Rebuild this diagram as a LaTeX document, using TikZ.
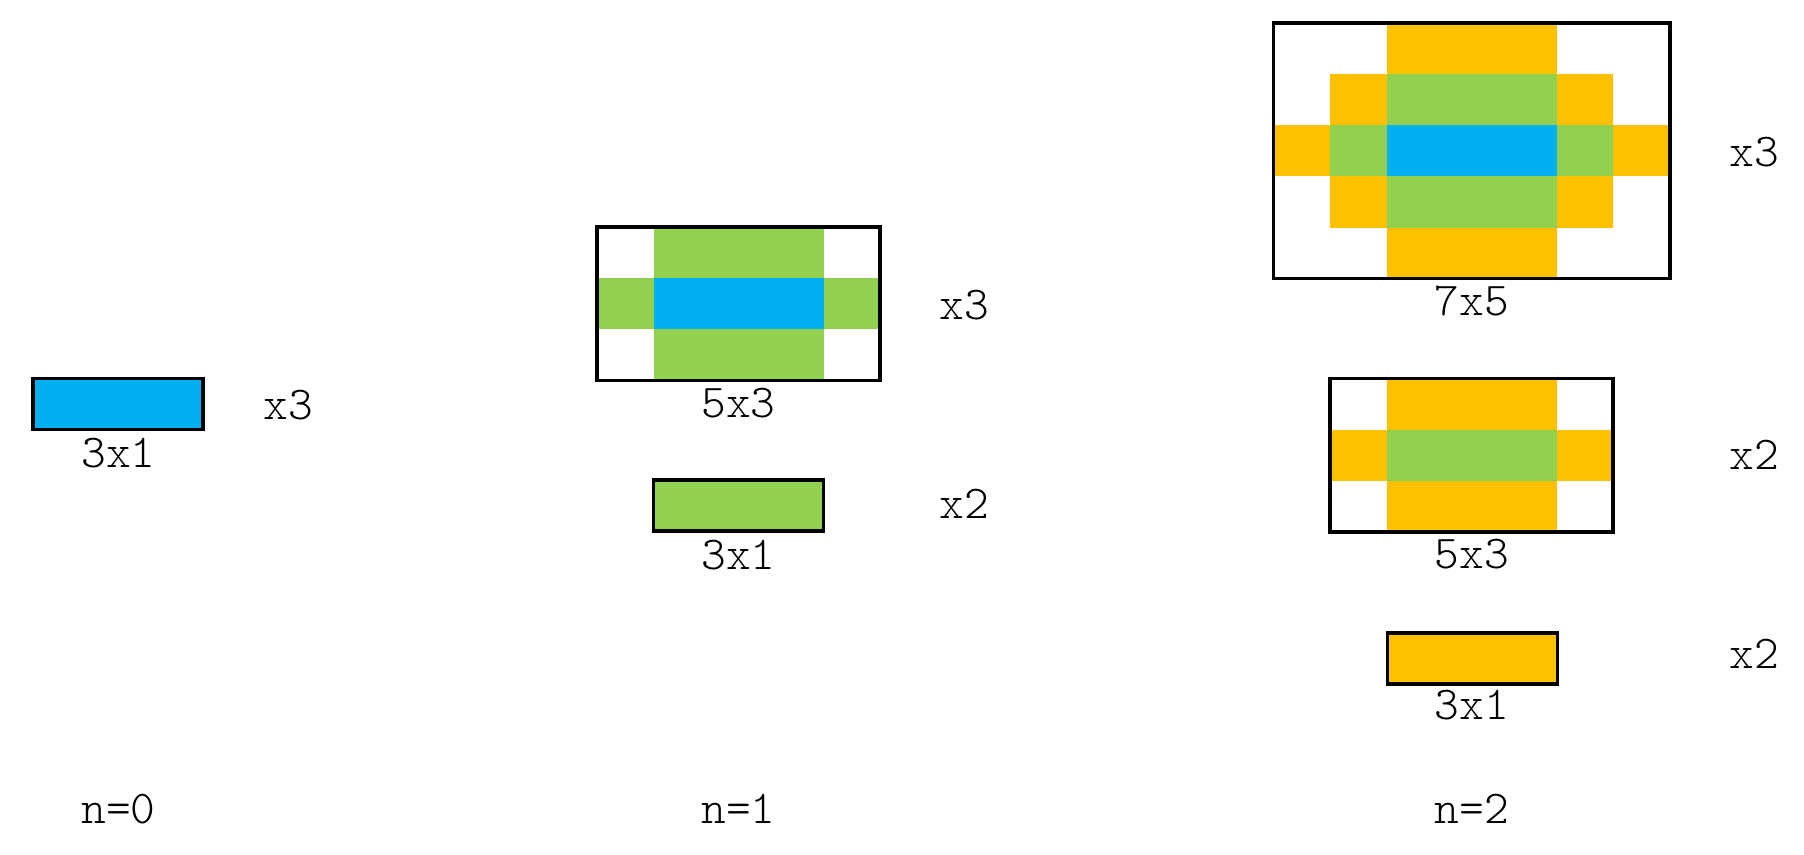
\documentclass[tikz,border=0pt]{standalone}
\usepackage{fontspec}
\setmonofont{Latin Modern Mono Light}
\usepackage{xcolor}
\usetikzlibrary{positioning}
\definecolor{cellblue}{HTML}{00B0F0}
\definecolor{cellgreen}{HTML}{92D050}
\definecolor{cellorange}{HTML}{FFC000}

\begin{document}
\begin{tikzpicture}
  [x=0.01cm, y=-0.01cm,
   frame/.style={draw=black, line width=1pt},
   lbl/.style={font=\ttfamily\fontsize{13.4}{16}\selectfont, inner sep=0pt},
   grid/.style={x=0.566cm, y=-0.511cm}]
\useasboundingbox (0,0) rectangle (1804,854);

% n=0
\begin{scope}[shift={(33,378.5)}, grid]
  \fill[cellblue] (0,0) rectangle (3,1);
  \draw[frame] (0,0) rectangle (3,1);
\end{scope}
\node[lbl] (s01) at (118.5,453) {3x1};
\node[lbl] (m01) at (288,405) {x3};
\node[lbl] (n0) at (118.5,809) {n=0};

% n=1
\begin{scope}[shift={(597,227)}, grid]
  \fill[cellgreen] (1,0) rectangle (4,3);
  \fill[cellgreen] (0,1) rectangle (5,2);
  \fill[cellblue] (1,1) rectangle (4,2);
  \draw[frame] (0,0) rectangle (5,3);
\end{scope}
\begin{scope}[shift={(653.5,480)}, grid]
  \fill[cellgreen] (0,0) rectangle (3,1);
  \draw[frame] (0,0) rectangle (3,1);
\end{scope}
\node[lbl] (s11) at (738.5,403) {5x3};
\node[lbl] (s12) at (738.5,555) {3x1};
\node[lbl] (m11) at (964,305) {x3};
\node[lbl] (m12) at (964,504) {x2};
\node[lbl] (n1) at (738.5,809) {n=1};

% n=2
\begin{scope}[shift={(1273.6,23)}, grid]
  \fill[cellorange] (2,0) rectangle (5,5);
  \fill[cellorange] (1,1) rectangle (6,4);
  \fill[cellorange] (0,2) rectangle (7,3);
  \fill[cellgreen] (2,1) rectangle (5,4);
  \fill[cellgreen] (1,2) rectangle (6,3);
  \fill[cellblue] (2,2) rectangle (5,3);
  \draw[frame] (0,0) rectangle (7,5);
\end{scope}
\begin{scope}[shift={(1330,378.5)}, grid]
  \fill[cellorange] (1,0) rectangle (4,3);
  \fill[cellorange] (0,1) rectangle (5,2);
  \fill[cellgreen] (1,1) rectangle (4,2);
  \draw[frame] (0,0) rectangle (5,3);
\end{scope}
\begin{scope}[shift={(1387.5,633)}, grid]
  \fill[cellorange] (0,0) rectangle (3,1);
  \draw[frame] (0,0) rectangle (3,1);
\end{scope}
\node[lbl] (s21) at (1472,301) {7x5};
\node[lbl] (s22) at (1472,554) {5x3};
\node[lbl] (s23) at (1472,705) {3x1};
\node[lbl] (m21) at (1754,152) {x3};
\node[lbl] (m22) at (1754,455) {x2};
\node[lbl] (m23) at (1754,654) {x2};
\node[lbl] (n2) at (1472,809) {n=2};
\end{tikzpicture}
\end{document}
